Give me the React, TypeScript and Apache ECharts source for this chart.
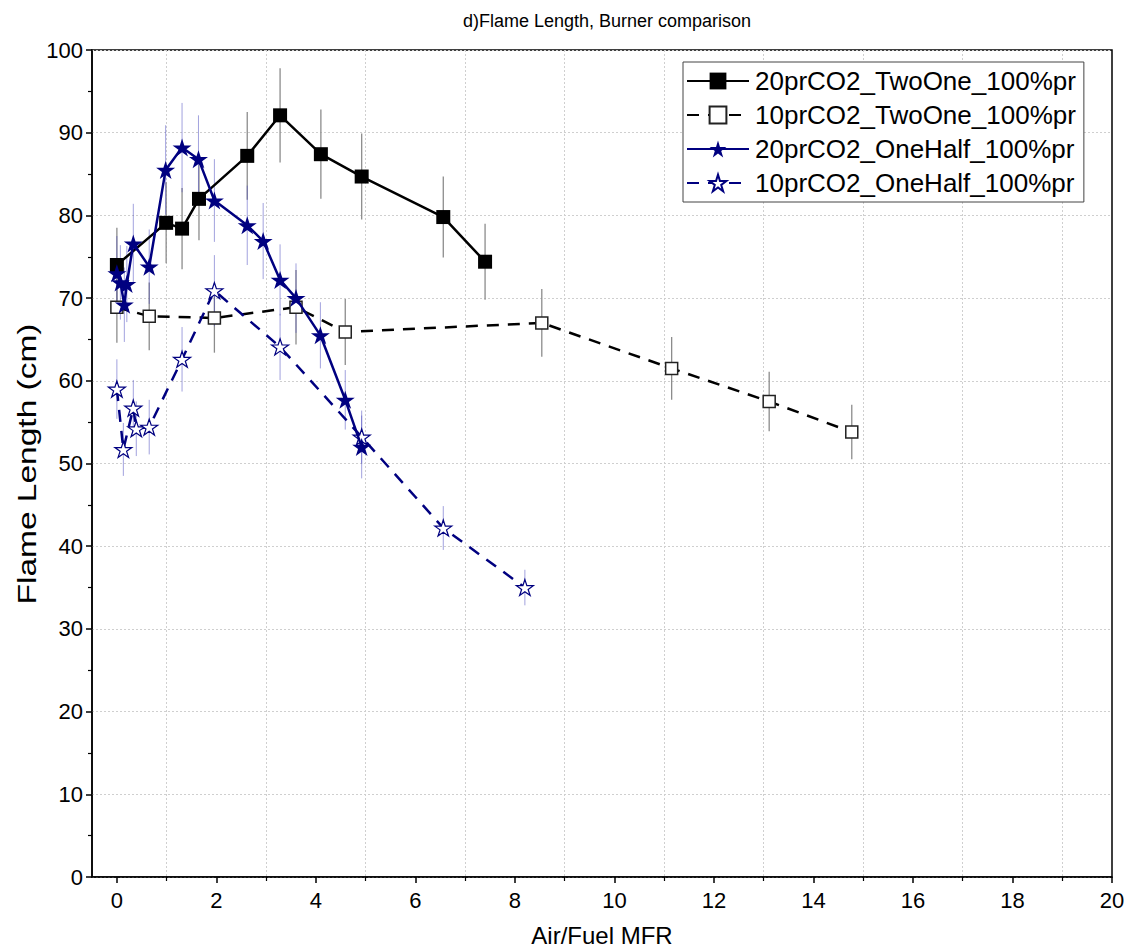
import React, { useEffect, useRef } from "react";
import * as echarts from "echarts";

// ---- data ----
const twoOne20X = [0, 0.99, 1.31, 1.65, 2.62, 3.28, 4.1, 4.92, 6.56, 7.4];
const twoOne20Y = [74.0, 79.1, 78.4, 82.0, 87.2, 92.1, 87.4, 84.7, 79.8, 74.4];
const twoOne20E = [4.5, 4.9, 4.9, 5.0, 5.3, 5.7, 5.4, 5.2, 4.9, 4.6];

const twoOne10X = [0, 0.65, 1.96, 3.6, 4.59, 8.54, 11.15, 13.11, 14.77];
const twoOne10Y = [68.9, 67.8, 67.6, 68.9, 65.9, 67.0, 61.5, 57.5, 53.8];
const twoOne10E = [4.3, 4.1, 4.2, 4.5, 4.0, 4.1, 3.8, 3.6, 3.3];

const oneHalf20X = [0, 0.07, 0.15, 0.2, 0.33, 0.65, 0.98, 1.31, 1.64, 1.96, 2.62, 2.94, 3.28, 3.6, 4.09, 4.59, 4.92];
const oneHalf20Y = [73.0, 71.9, 69.2, 71.7, 76.6, 73.8, 85.5, 88.2, 86.8, 81.8, 78.8, 76.9, 72.2, 70.0, 65.5, 57.7, 52.0];
const oneHalf20E = [4.5, 4.5, 4.5, 4.6, 4.8, 4.5, 5.4, 5.4, 5.3, 5.0, 4.8, 4.6, 4.3, 4.2, 4.0, 3.6, 3.8];

const oneHalf10X = [0, 0.13, 0.33, 0.39, 0.65, 1.31, 1.96, 3.28, 4.92, 6.56, 8.2];
const oneHalf10Y = [59.0, 51.7, 56.7, 54.2, 54.4, 62.6, 70.9, 64.1, 53.2, 42.2, 35.0];
const oneHalf10E = [3.6, 3.2, 3.4, 3.3, 3.3, 3.9, 4.3, 4.0, 3.2, 2.65, 2.15];

const seriesNames = [
  "20prCO2_TwoOne_100%pr",
  "10prCO2_TwoOne_100%pr",
  "20prCO2_OneHalf_100%pr",
  "10prCO2_OneHalf_100%pr",
];

const xMajorTicks = [0, 2, 4, 6, 8, 10, 12, 14, 16, 18, 20];
const xMinorTicks = [1, 3, 5, 7, 9, 11, 13, 15, 17, 19];

const STAR =
  "path://M0,-1L0.2245,-0.309L0.9511,-0.309L0.3633,0.118L0.5878,0.809L0,0.382L-0.5878,0.809L-0.3633,0.118L-0.9511,-0.309L-0.2245,-0.309Z";
const NAVY = "#000080";
const FONT = "'Liberation Sans', Arial, sans-serif";

function pairs(xs: number[], ys: number[]) {
  return xs.map((x, i) => [x, ys[i]]);
}

function errSeries(xs: number[], ys: number[], es: number[], color: string, width: number) {
  return {
    type: "custom",
    xAxisIndex: 0,
    yAxisIndex: 0,
    silent: true,
    z: 1,
    data: xs.map((x, i) => [x, ys[i] - es[i], ys[i] + es[i]]),
    renderItem: (_params: any, api: any) => {
      const p1 = api.coord([api.value(0), api.value(1)]);
      const p2 = api.coord([api.value(0), api.value(2)]);
      return {
        type: "line",
        shape: { x1: p1[0], y1: p1[1], x2: p2[0], y2: p2[1] },
        style: { stroke: color, lineWidth: width },
      };
    },
  };
}

export default function App() {
  const ref = useRef<HTMLDivElement>(null);
  useEffect(() => {
    if (!ref.current) return;
    const chart = echarts.init(ref.current, undefined, { renderer: "svg" });
    const gridLine = { show: true, lineStyle: { color: "#cfcfcf", type: [2, 2], width: 1 } };
    chart.setOption({
      animation: false,
      backgroundColor: "#fff",
      title: {
        text: "d)Flame Length, Burner comparison",
        left: 602,
        top: 7,
        textAlign: "center",
        textStyle: { fontFamily: FONT, fontSize: 18, fontWeight: "normal", color: "#000" },
      },
      graphic: [
        {
          type: "text",
          x: 27,
          y: 464,
          rotation: Math.PI / 2,
          scaleX: 1.34,
          style: {
            text: "Flame Length (cm)",
            fontFamily: FONT,
            fontSize: 25,
            fill: "#000",
            align: "center",
            verticalAlign: "middle",
          },
        },
      ],
      grid: {
        left: 92,
        right: 16,
        top: 50,
        bottom: 75,
        show: true,
        borderColor: "#000",
        borderWidth: 1.5,
        backgroundColor: "transparent",
      },
      legend: {
        data: seriesNames,
        orient: "vertical",
        left: 683,
        top: 62,
        itemWidth: 62,
        itemHeight: 21,
        itemGap: 4,
        padding: [4, 8, 4, 3],
        backgroundColor: "#fff",
        borderColor: "#444",
        borderWidth: 1,
        textStyle: { fontFamily: FONT, fontSize: 26, lineHeight: 30, color: "#000", padding: [0, 0, 0, 1] },
      },
      xAxis: [
        {
          type: "value",
          min: -0.5,
          max: 20,
          interval: 2,
          axisLine: { show: true, onZero: false, lineStyle: { color: "#000", width: 1.5 } },
          axisTick: { show: true, inside: false, length: 6, customValues: xMajorTicks, lineStyle: { color: "#000", width: 1.5 } },
          axisLabel: { customValues: xMajorTicks, fontFamily: FONT, fontSize: 22, color: "#000", margin: 12 },
          splitLine: { show: false },
          name: "Air/Fuel MFR",
          nameLocation: "middle",
          nameGap: 46,
          nameTextStyle: { fontFamily: FONT, fontSize: 24, color: "#000" },
        },
        {
          type: "value",
          position: "bottom",
          min: -0.5,
          max: 20,
          interval: 1,
          axisLine: { show: false, onZero: false },
          axisTick: { show: true, length: 4, customValues: xMinorTicks, lineStyle: { color: "#000", width: 1.2 } },
          axisLabel: { show: false },
          splitLine: gridLine,
        },
      ],
      yAxis: {
        type: "value",
        min: 0,
        max: 100,
        interval: 10,
        axisLine: { show: true, onZero: false, lineStyle: { color: "#000", width: 1.5 } },
        axisTick: { show: true, length: 6, lineStyle: { color: "#000", width: 1.5 } },
        minorTick: { show: true, splitNumber: 2, length: 4, lineStyle: { color: "#000", width: 1.2 } },
        axisLabel: { fontFamily: FONT, fontSize: 22, color: "#000", margin: 9 },
        splitLine: gridLine,
      },
      series: [
        errSeries(twoOne20X, twoOne20Y, twoOne20E, "#8c8c8c", 1.3),
        errSeries(twoOne10X, twoOne10Y, twoOne10E, "#8c8c8c", 1.3),
        errSeries(oneHalf20X, oneHalf20Y, oneHalf20E, "rgba(70,70,190,0.5)", 1),
        errSeries(oneHalf10X, oneHalf10Y, oneHalf10E, "rgba(70,70,190,0.5)", 1),
        {
          name: seriesNames[0],
          type: "line",
          xAxisIndex: 0,
          data: pairs(twoOne20X, twoOne20Y),
          symbol: "rect",
          symbolSize: 14,
          z: 5,
          lineStyle: { color: "#000", width: 2.5 },
          itemStyle: { color: "#000", borderColor: "#000", borderWidth: 0 },
        },
        {
          name: seriesNames[1],
          type: "line",
          xAxisIndex: 0,
          data: pairs(twoOne10X, twoOne10Y),
          symbol: "rect",
          symbolSize: 12,
          z: 4,
          lineStyle: { color: "#000", width: 2.5, type: [12, 9] },
          itemStyle: { color: "#fff", borderColor: "#222", borderWidth: 1.5 },
        },
        {
          name: seriesNames[2],
          type: "line",
          xAxisIndex: 0,
          data: pairs(oneHalf20X, oneHalf20Y),
          symbol: STAR,
          symbolSize: [19, 18],
          z: 6,
          lineStyle: { color: NAVY, width: 2.5 },
          itemStyle: { color: NAVY, borderColor: NAVY, borderWidth: 0 },
        },
        {
          name: seriesNames[3],
          type: "line",
          xAxisIndex: 0,
          data: pairs(oneHalf10X, oneHalf10Y),
          symbol: STAR,
          symbolSize: [17, 16],
          z: 4,
          lineStyle: { color: NAVY, width: 2.5, type: [12, 9] },
          itemStyle: { color: "#fff", borderColor: NAVY, borderWidth: 1.2 },
        },
      ],
    });
    return () => chart.dispose();
  }, []);
  return (
    <div
      ref={ref}
      style={{ position: "absolute", left: 0, top: 0, width: 1128, height: 952 }}
    />
  );
}
